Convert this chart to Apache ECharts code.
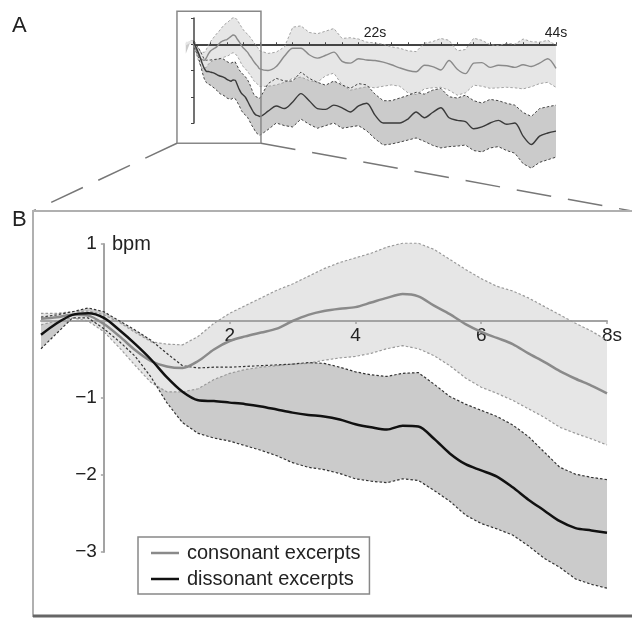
<!DOCTYPE html>
<html>
<head>
<meta charset="utf-8">
<script src="https://cdn.jsdelivr.net/npm/echarts@6/dist/echarts.min.js"></script>
<style>
html, body { margin: 0; padding: 0; background: #fff; }
#chart { width: 632px; height: 618px; }
</style>
</head>
<body>
<div id="chart"></div>
<script>
// first 8 s (panel B, also start of panel A), 0.25 s steps
const timeB = [-1, -0.75, -0.5, -0.25, 0, 0.25, 0.5, 0.75, 1, 1.25, 1.5, 1.75, 2, 2.25, 2.5, 2.75, 3, 3.25, 3.5, 3.75,
  4, 4.25, 4.5, 4.75, 5, 5.25, 5.5, 5.75, 6, 6.25, 6.5, 6.75, 7, 7.25, 7.5, 7.75, 8]
const conMeanB = [0.03, 0.05, 0.08, 0.07, -0.04, -0.2, -0.38, -0.52, -0.59, -0.61, -0.52, -0.37, -0.26, -0.2, -0.15, -0.1, 0, 0.08, 0.13, 0.16,
  0.18, 0.24, 0.3, 0.35, 0.32, 0.2, 0.09, -0.04, -0.14, -0.22, -0.3, -0.42, -0.53, -0.65, -0.75, -0.84, -0.94]
const conUpperB = [0.1, 0.1, 0.12, 0.13, 0.08, -0.02, -0.15, -0.27, -0.3, -0.31, -0.2, -0.03, 0.1, 0.2, 0.3, 0.4, 0.48, 0.58, 0.68, 0.76,
  0.82, 0.88, 0.96, 1.01, 1.01, 0.93, 0.8, 0.67, 0.55, 0.45, 0.39, 0.3, 0.19, 0.08, -0.03, -0.13, -0.25]
const conLowerB = [-0.05, 0, 0.04, 0, -0.14, -0.35, -0.58, -0.8, -0.92, -0.92, -0.88, -0.76, -0.68, -0.63, -0.6, -0.58, -0.56, -0.55, -0.51, -0.48,
  -0.46, -0.42, -0.36, -0.32, -0.36, -0.45, -0.58, -0.74, -0.86, -0.94, -1.03, -1.14, -1.25, -1.38, -1.46, -1.53, -1.61]
const disMeanB = [-0.18, -0.03, 0.08, 0.1, 0.04, -0.12, -0.3, -0.5, -0.73, -0.92, -1.03, -1.04, -1.06, -1.08, -1.11, -1.15, -1.19, -1.22, -1.24, -1.28,
  -1.34, -1.38, -1.41, -1.36, -1.37, -1.53, -1.72, -1.86, -1.94, -2.02, -2.16, -2.32, -2.46, -2.6, -2.69, -2.72, -2.75]
const disUpperB = [0.05, 0.08, 0.12, 0.17, 0.12, 0, -0.12, -0.25, -0.42, -0.58, -0.61, -0.6, -0.6, -0.59, -0.58, -0.57, -0.56, -0.54, -0.55, -0.6,
  -0.66, -0.7, -0.72, -0.68, -0.67, -0.82, -0.98, -1.08, -1.16, -1.24, -1.35, -1.5, -1.7, -1.9, -1.99, -2.03, -2.06]
const disLowerB = [-0.36, -0.16, 0.04, 0.04, -0.1, -0.27, -0.46, -0.73, -1.06, -1.32, -1.46, -1.52, -1.56, -1.62, -1.68, -1.75, -1.84, -1.9, -1.93, -1.98,
  -2.05, -2.08, -2.1, -2.05, -2.07, -2.2, -2.34, -2.52, -2.63, -2.7, -2.78, -2.92, -3.08, -3.2, -3.35, -3.42, -3.47]

// rest of the 44 s (panel A only), 1 s steps
const timeTail = [9, 10, 11, 12, 13, 14, 15, 16, 17, 18, 19, 20, 21, 22, 23, 24, 25, 26, 27, 28,
  29, 30, 31, 32, 33, 34, 35, 36, 37, 38, 39, 40, 41, 42, 43, 44]
const conMeanTail = [-1.0, -0.85, -0.45, -0.15, -0.15, -0.4, -0.53, -0.42, -0.3, -0.65, -0.72, -0.55, -0.6, -0.62, -0.68, -0.78, -0.9, -1.0, -1.05, -0.8,
  -0.85, -0.98, -0.62, -0.95, -1.12, -0.72, -0.7, -0.88, -0.8, -0.82, -0.88, -0.78, -0.85, -0.72, -0.55, -0.92]
const conUpperTail = [-0.35, -0.3, -0.1, 0.65, 0.7, 0.45, 0.4, 0.5, 0.6, 0.22, 0.25, 0.2, 0.08, 0.05, 0, -0.1, -0.15, -0.25, -0.28, 0.04,
  0.1, 0.22, 0.15, -0.25, -0.2, 0.23, 0.15, -0.02, -0.05, 0.04, 0, 0.2, 0.1, 0.08, 0.15, -0.04]
const conLowerTail = [-1.6, -1.55, -1.45, -1.3, -1.25, -1.38, -1.45, -1.2, -1.1, -1.55, -1.75, -1.68, -1.62, -1.66, -1.6, -1.55, -1.6, -1.85, -1.92, -1.7,
  -1.66, -1.64, -1.75, -1.94, -1.85, -1.56, -1.6, -1.68, -1.66, -1.64, -1.66, -1.7, -1.62, -1.5, -1.45, -1.64]
const disMeanTail = [-2.55, -2.35, -2.45, -2.2, -1.88, -2.15, -2.45, -2.48, -2.32, -2.42, -2.58, -2.35, -2.25, -2.7, -3.0, -3.0, -3.0, -2.85, -2.58, -2.8,
  -2.6, -2.42, -2.8, -2.9, -2.95, -3.22, -3.15, -3.0, -2.9, -3.05, -3.0, -3.5, -3.82, -3.5, -3.38, -3.31]
const disUpperTail = [-1.5, -1.3, -1.4, -1.4, -1.06, -1.3, -1.45, -1.56, -1.4, -1.55, -1.68, -1.5, -1.55, -1.9, -2.15, -2.15, -2.05, -1.95, -1.83, -1.9,
  -1.75, -1.68, -2.0, -2.05, -1.94, -2.15, -2.24, -2.1, -2.15, -2.25, -2.32, -2.6, -2.75, -2.45, -2.38, -2.32]
const disLowerTail = [-3.25, -3.0, -3.1, -3.15, -2.85, -3.05, -3.2, -3.1, -3.0, -3.2, -3.15, -3.1, -3.3, -3.6, -3.84, -3.8, -3.73, -3.65, -3.57, -3.7,
  -3.85, -3.95, -3.9, -3.88, -3.84, -4.05, -4.1, -3.95, -3.9, -4.05, -4.15, -4.55, -4.72, -4.5, -4.4, -4.3]

// axis ranges, ticks and labels
const rangeAX = [0, 44]
const rangeAY = [-3, 1]
const rangeBX = [-1, 8]
const rangeBY = [-3, 1]
const ticksAX = [2, 4, 6, 8, 10, 12, 14, 16, 18, 20, 22, 24, 26, 28, 30, 32, 34, 36, 38, 40, 42, 44]
const labelsAX = [22, 44]
const ticksBX = [2, 4, 6, 8]
const ticksBY = [1, -1, -2, -3]
const legendNames = ['consonant excerpts', 'dissonant excerpts']

// part of panel A enlarged in panel B (seconds, bpm)
const zoomBoxT = [-2.07, 8.14]
const zoomBoxV = [1.26, -3.77]

const FONT = 'Liberation Sans'
const gridA = { left: 194, right: 76, top: 18, bottom: 495 }
const gridB = { left: 41, right: 25, top: 244, bottom: 66 }
const W = 632, H = 618

function pairs(ts, vs) { return ts.map((t, i) => [t, vs[i]]) }

// where the zero line sits inside the grid, as a fraction from the min end
const zeroFrac = r => (0 - r[0]) / (r[1] - r[0])

function bandSeries(idx, ts, lo, up, color, z) {
  return {
    type: 'custom', xAxisIndex: idx, yAxisIndex: idx, silent: true, clip: false, z,
    data: [[ts[0], lo[0]]],
    renderItem: (params, api) => {
      const top = ts.map((t, i) => api.coord([t, up[i]]))
      const bot = ts.map((t, i) => api.coord([t, lo[i]])).reverse()
      return { type: 'polygon', shape: { points: top.concat(bot) }, style: { fill: color, stroke: null } }
    }
  }
}

function panelSeries(idx, ts, c, d, small) {
  const base = {
    type: 'line', xAxisIndex: idx, yAxisIndex: idx, symbol: 'none', showSymbol: false,
    clip: false, silent: true
  }
  const edge = (data, color, z) => Object.assign({}, base, {
    data, z, lineStyle: { color, width: small ? 0.9 : 1.2, type: [2.5, 2] }
  })
  const cCol = '#8a8a8a', dCol = small ? '#3a3a3a' : '#111'
  return [
    bandSeries(idx, ts, d.lo, d.up, '#cbcbcb', 1),
    bandSeries(idx, ts, c.lo, c.up, '#e6e6e6', 2),
    edge(pairs(ts, c.up), '#9a9a9a', 4),
    edge(pairs(ts, c.lo), '#9a9a9a', 4),
    edge(pairs(ts, d.up), '#333', 5),
    edge(pairs(ts, d.lo), '#333', 5),
    Object.assign({}, base, {
      name: small ? 'A consonant' : legendNames[0], data: pairs(ts, c.mean), z: 6, smooth: 0.3,
      itemStyle: { color: cCol }, lineStyle: { color: cCol, width: small ? 1.4 : 2.5 }
    }),
    Object.assign({}, base, {
      name: small ? 'A dissonant' : legendNames[1], data: pairs(ts, d.mean), z: 7, smooth: 0.3,
      itemStyle: { color: dCol }, lineStyle: { color: dCol, width: small ? 1.4 : 2.5 }
    })
  ]
}

const timeA = timeB.concat(timeTail)
const conA = { mean: conMeanB.concat(conMeanTail), up: conUpperB.concat(conUpperTail), lo: conLowerB.concat(conLowerTail) }
const disA = { mean: disMeanB.concat(disMeanTail), up: disUpperB.concat(disUpperTail), lo: disLowerB.concat(disLowerTail) }
const conB = { mean: conMeanB, up: conUpperB, lo: conLowerB }
const disB = { mean: disMeanB, up: disUpperB, lo: disLowerB }

const hA = H - gridA.top - gridA.bottom
const hB = H - gridB.top - gridB.bottom
const wB = W - gridB.left - gridB.right

const minus = v => String(v).replace('-', '\u2212')

const chart = echarts.init(document.getElementById('chart'))
chart.setOption({
  animation: false,
  backgroundColor: '#fff',
  textStyle: { fontFamily: FONT },
  grid: [
    Object.assign({ outerBoundsMode: 'none' }, gridA),
    Object.assign({ outerBoundsMode: 'none' }, gridB)
  ],
  xAxis: [
    {
      gridIndex: 0, type: 'value', min: rangeAX[0], max: rangeAX[1], position: 'top', z: 3,
      offset: -(1 - zeroFrac(rangeAY)) * hA,
      axisLine: { onZero: false, lineStyle: { color: '#444', width: 2 } },
      axisTick: { show: true, length: 2, customValues: ticksAX, lineStyle: { color: '#444' } },
      axisLabel: { margin: 4, customValues: labelsAX, fontSize: 14, color: '#222', formatter: v => v + 's' },
      splitLine: { show: false }
    },
    {
      gridIndex: 1, type: 'value', min: rangeBX[0], max: rangeBX[1], position: 'bottom', z: 3,
      offset: -zeroFrac(rangeBY) * hB,
      axisLine: { onZero: false, lineStyle: { color: '#a3a3a3', width: 2 } },
      axisTick: { show: true, length: 3, customValues: ticksBX, lineStyle: { color: '#a3a3a3', width: 1.5 } },
      axisLabel: {
        margin: 5, customValues: ticksBX, fontSize: 19, color: '#222',
        formatter: v => v === rangeBX[1] ? '{pad|}' + v + 's' : String(v),
        rich: { pad: { width: 10 } }
      },
      splitLine: { show: false }
    }
  ],
  yAxis: [
    {
      gridIndex: 0, type: 'value', min: rangeAY[0], max: rangeAY[1], interval: 1, position: 'left', z: 3,
      axisLine: { show: true, onZero: false, lineStyle: { color: '#444', width: 1.5 } },
      axisTick: { show: true, length: 3, lineStyle: { color: '#444' } },
      axisLabel: { show: false },
      splitLine: { show: false }
    },
    {
      gridIndex: 1, type: 'value', min: rangeBY[0], max: rangeBY[1], position: 'left', z: 3,
      offset: -zeroFrac(rangeBX) * wB,
      name: 'bpm', nameLocation: 'end', nameGap: 0,
      nameTextStyle: { fontSize: 20, color: '#222', align: 'left', verticalAlign: 'middle', padding: [0, 0, 0, 8] },
      axisLine: { show: true, onZero: false, lineStyle: { color: '#a3a3a3', width: 2 } },
      axisTick: { show: true, length: 3, customValues: ticksBY, lineStyle: { color: '#a3a3a3', width: 1.5 } },
      axisLabel: { margin: 7, customValues: ticksBY, fontSize: 19, color: '#222', formatter: minus },
      splitLine: { show: false }
    }
  ],
  legend: {
    data: legendNames, orient: 'vertical', left: 138, top: 537,
    padding: [6, 9, 5, 13], icon: 'rect', itemWidth: 28, itemHeight: 2.5, itemGap: 6,
    borderColor: '#888', borderWidth: 1.5, borderRadius: 0,
    textStyle: { fontSize: 20, color: '#222', fontFamily: FONT, padding: [0, 0, 0, 3] },
    selectedMode: false
  },
  series: [
    ...panelSeries(0, timeA, conA, disA, true),
    ...panelSeries(1, timeB, conB, disB, false)
  ]
})

// zoom box in A and its connection to the frame of B
const bl = chart.convertToPixel({ gridIndex: 0 }, [zoomBoxT[0], zoomBoxV[1]])
const tr = chart.convertToPixel({ gridIndex: 0 }, [zoomBoxT[1], zoomBoxV[0]])
const frameB = { x: 33, y: 211, w: 602, h: 405 }
const connector = { stroke: '#777', lineWidth: 1.5, lineDash: [35, 17] }

chart.setOption({
  graphic: [
    { type: 'text', x: 12, y: 26, style: { text: 'A', fontSize: 22, fontFamily: FONT, fill: '#222', verticalAlign: 'middle' } },
    { type: 'text', x: 12, y: 220, style: { text: 'B', fontSize: 22, fontFamily: FONT, fill: '#222', verticalAlign: 'middle' } },
    {
      type: 'rect', z: 20, silent: true,
      shape: { x: bl[0], y: tr[1], width: tr[0] - bl[0], height: bl[1] - tr[1] },
      style: { fill: 'none', stroke: '#888', lineWidth: 1.5 }
    },
    { type: 'line', z: 20, shape: { x1: bl[0], y1: bl[1], x2: frameB.x, y2: frameB.y }, style: connector },
    { type: 'line', z: 20, shape: { x1: tr[0], y1: bl[1], x2: W, y2: frameB.y }, style: connector },
    {
      type: 'rect', z: 20, silent: true,
      shape: { x: frameB.x, y: frameB.y, width: frameB.w, height: frameB.h },
      style: { fill: 'none', stroke: '#b0b0b0', lineWidth: 2 }
    },
    {
      type: 'line', z: 21, shape: { x1: frameB.x, y1: frameB.y + frameB.h, x2: W, y2: frameB.y + frameB.h },
      style: { stroke: '#666', lineWidth: 3 }
    }
  ]
})
</script>
</body>
</html>
